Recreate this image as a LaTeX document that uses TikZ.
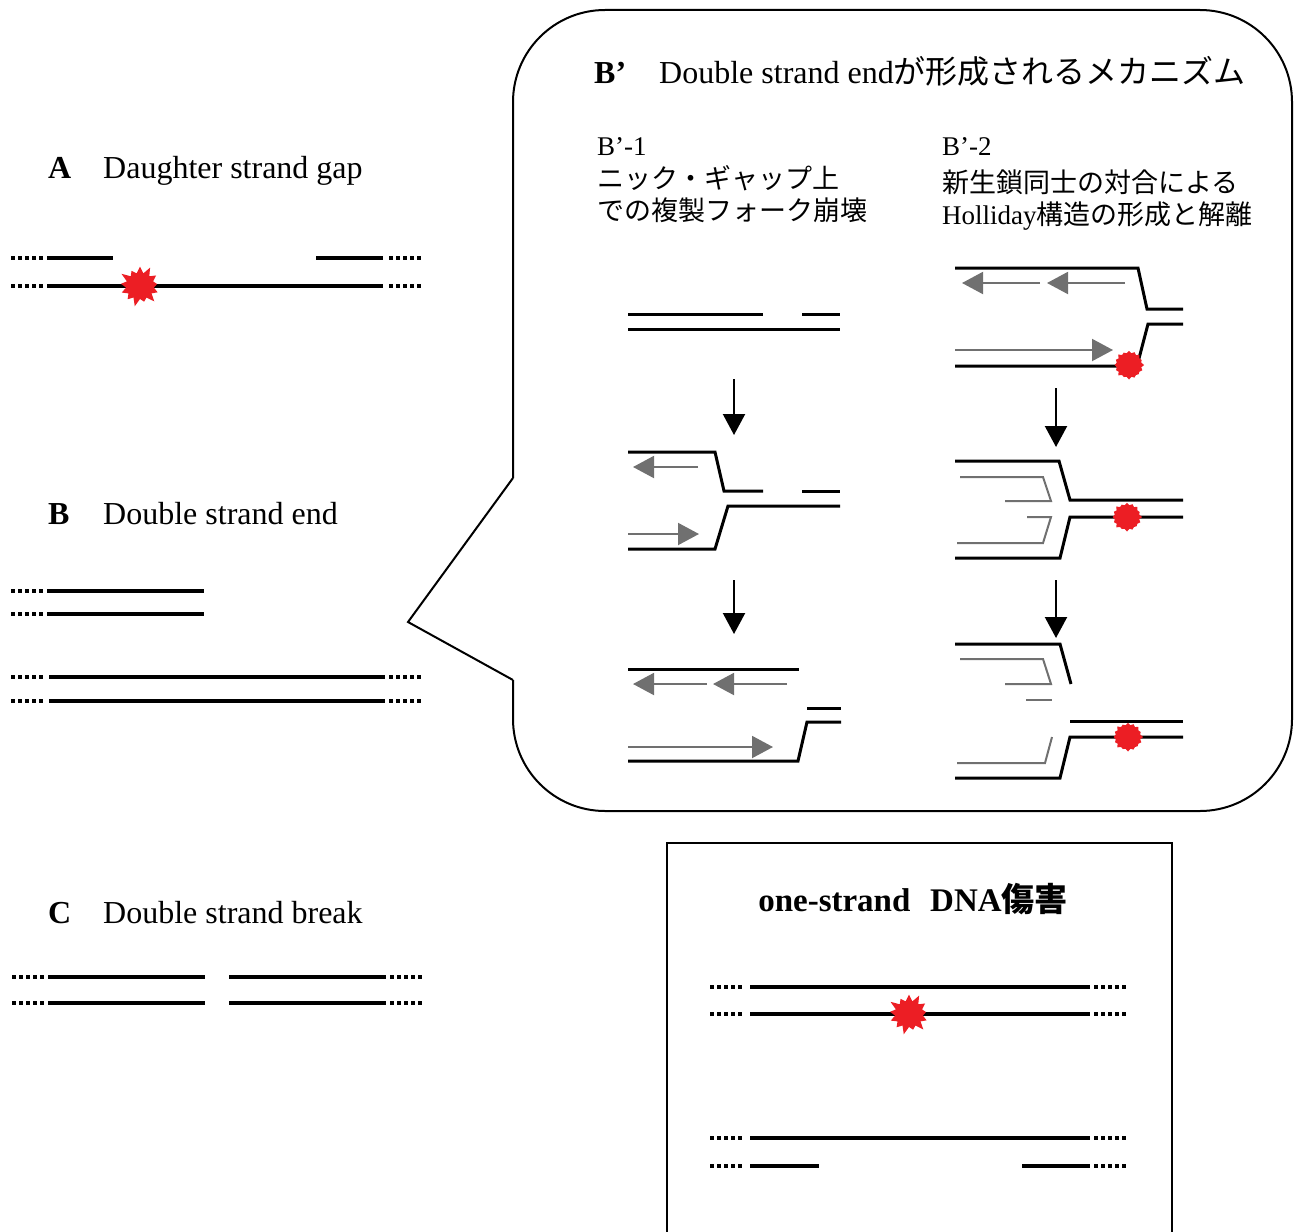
\documentclass[tikz,border=0pt]{standalone}
\usepackage{fontspec}
\setmainfont{Liberation Serif}
\newfontfamily\jp{Noto Sans CJK JP}
\usetikzlibrary{arrows.meta,shapes.symbols}

\definecolor{lesion}{RGB}{236,30,36}
\definecolor{newstrand}{RGB}{112,112,112}

\tikzset{
  strand/.style={line width=4pt},
  dots/.style={line width=4pt, dash pattern=on 4pt off 3pt},
  fork/.style={line width=3pt, line join=miter},
  nascentline/.style={newstrand, line width=2pt, line join=miter},
  nascent/.style={nascentline, -{Triangle[length=21pt,width=22pt]}},
  stagearrow/.style={line width=2.2pt, -{Triangle[length=21pt,width=22pt]}},
  spiky/.style={starburst, fill=lesion, draw=none, starburst points=13,
    starburst point height=9pt, minimum width=46pt, minimum height=44pt, inner sep=0pt},
  blob/.style={starburst, fill=lesion, draw=none, starburst points=16,
    starburst point height=3pt, minimum width=31pt, minimum height=30pt, inner sep=0pt},
  big/.style={font=\fontsize{32}{37}\selectfont, anchor=base west, inner sep=0pt},
  small/.style={font=\fontsize{27}{32}\selectfont, anchor=base west, inner sep=0pt},
}

\begin{document}
\begin{tikzpicture}[x=1pt, y=-1pt]
\useasboundingbox (0,0) rectangle (1300,1231);

% ---------- A: daughter strand gap ----------
\node[big] (labA) at (48,178) {\textbf{A}};
\node[big] (txtA) at (103,178) {Daughter strand gap};
\draw[dots] (11,258) -- (43,258);
\draw[strand] (47,258) -- (113,258);
\draw[strand] (316,258) -- (383,258);
\draw[dots] (389,258) -- (421,258);
\draw[dots] (11,286) -- (43,286);
\draw[strand] (47,286) -- (383,286);
\draw[dots] (389,286) -- (421,286);
\node[spiky] (lesA) at (140,286) {};

% ---------- B: double strand end ----------
\node[big] (labB) at (48,524) {\textbf{B}};
\node[big] (txtB) at (103,524) {Double strand end};
\draw[dots] (11,591) -- (43,591);
\draw[strand] (47,591) -- (204,591);
\draw[dots] (11,614) -- (43,614);
\draw[strand] (47,614) -- (204,614);
\draw[dots] (11,677) -- (43,677);
\draw[strand] (49,677) -- (385,677);
\draw[dots] (389,677) -- (421,677);
\draw[dots] (11,701) -- (43,701);
\draw[strand] (49,701) -- (385,701);
\draw[dots] (389,701) -- (421,701);

% ---------- C: double strand break ----------
\node[big] (labC) at (48,923) {\textbf{C}};
\node[big] (txtC) at (103,923) {Double strand break};
\draw[dots] (12,977) -- (44,977);
\draw[strand] (48,977) -- (205,977);
\draw[strand] (229,977) -- (386,977);
\draw[dots] (390,977) -- (422,977);
\draw[dots] (12,1003) -- (44,1003);
\draw[strand] (48,1003) -- (205,1003);
\draw[strand] (229,1003) -- (386,1003);
\draw[dots] (390,1003) -- (422,1003);

% ---------- callout B' ----------
\coordinate (tipB) at (408,622);
\draw[line width=2pt, rounded corners=92pt]
  (513,478) -- (513,10) -- (1292,10) -- (1292,811) -- (513,811) -- (513,680);
\draw[line width=2pt, line join=miter] (513,478) -- (tipB) -- (513,680);

\node[big] (labBp) at (594,83) {\textbf{B’}};
\node[big] (txtBp) at (659,83) {Double strand end{\jp が形成されるメカニズム}};

\node[small] (h1) at (597,155) {B’-1};
\node[small] (h1a) at (597,188) {\jp ニック・ギャップ上};
\node[small] (h1b) at (597,220) {\jp での複製フォーク崩壊};
\node[small] (h2) at (942,155) {B’-2};
\node[small] (h2a) at (942,192) {\jp 新生鎖同士の対合による};
\node[small] (h2b) at (942,224) {Holliday{\jp 構造の形成と解離}};

% B'-1, stage 1
\draw[fork] (628,314) -- (763,314);
\draw[fork] (802,314) -- (840,314);
\draw[fork] (628,329) -- (840,329);
\coordinate (a1s) at (734,379);
\coordinate (a1e) at (734,435);
\draw[stagearrow] (a1s) -- (a1e);
% B'-1, stage 2
\draw[fork] (628,452) -- (715,452) -- (724,491) -- (763,491);
\draw[fork] (802,491) -- (840,491);
\draw[fork] (840,506) -- (728,506) -- (715,549) -- (628,549);
\draw[nascent] (698,467) -- (633,467);
\draw[nascent] (628,534) -- (699,534);
\coordinate (a2s) at (734,580);
\coordinate (a2e) at (734,634);
\draw[stagearrow] (a2s) -- (a2e);
% B'-1, stage 3
\draw[fork] (628,669) -- (799,669);
\draw[nascent] (707,684) -- (633,684);
\draw[nascent] (787,684) -- (713,684);
\draw[fork] (807,708) -- (841,708);
\draw[fork] (841,722) -- (807,722) -- (798,761) -- (628,761);
\draw[nascent] (628,747) -- (773,747);

% B'-2, stage 1
\draw[fork] (955,268) -- (1138,268) -- (1147,309) -- (1183,309);
\draw[nascent] (1040,283) -- (962,283);
\draw[nascent] (1125,283) -- (1047,283);
\draw[fork] (1183,324) -- (1148,324) -- (1137,366) -- (955,366);
\draw[nascent] (955,350) -- (1113,350);
\node[blob] (les1) at (1129,365) {};
\coordinate (b1s) at (1056,388);
\coordinate (b1e) at (1056,447);
\draw[stagearrow] (b1s) -- (b1e);
% B'-2, stage 2
\draw[fork] (955,461) -- (1059,461) -- (1070,500) -- (1183,500);
\draw[nascentline] (960,477) -- (1043,477) -- (1051,501) -- (1005,501);
\draw[fork] (1183,517) -- (1070,517) -- (1060,558) -- (955,558);
\draw[nascentline] (1027,517) -- (1051,517) -- (1043,543) -- (957,543);
\node[blob] (les2) at (1127,517) {};
\coordinate (b2s) at (1056,580);
\coordinate (b2e) at (1056,638);
\draw[stagearrow] (b2s) -- (b2e);
% B'-2, stage 3
\draw[fork] (955,644) -- (1060,644) -- (1071,684);
\draw[nascentline] (960,659) -- (1043,659) -- (1051,684) -- (1005,684);
\draw[nascentline] (1026,700) -- (1052,700);
\draw[fork] (1070,721) -- (1183,721);
\draw[fork] (1183,737) -- (1070,737) -- (1060,778) -- (955,778);
\draw[nascentline] (1052,737) -- (1045,763) -- (957,763);
\node[blob] (les3) at (1128,737) {};

% ---------- one-strand DNA lesion box ----------
\draw[line width=2pt] (667,843) rectangle (1172,1250);
\node[font=\fontsize{33}{38}\selectfont\bfseries, anchor=base, inner sep=0pt] (boxtitle)
  at (913,911) {one-strand\hspace{0.6em}DNA{\jp\bfseries 傷害}};
\draw[dots] (710,987) -- (742,987);
\draw[strand] (750,987) -- (1090,987);
\draw[dots] (1094,987) -- (1126,987);
\draw[dots] (710,1014) -- (742,1014);
\draw[strand] (750,1014) -- (1090,1014);
\draw[dots] (1094,1014) -- (1126,1014);
\node[spiky] (lesBox) at (909,1014) {};
\draw[dots] (710,1138) -- (742,1138);
\draw[strand] (750,1138) -- (1090,1138);
\draw[dots] (1094,1138) -- (1126,1138);
\draw[dots] (710,1166) -- (742,1166);
\draw[strand] (750,1166) -- (819,1166);
\draw[strand] (1022,1166) -- (1090,1166);
\draw[dots] (1094,1166) -- (1126,1166);
\end{tikzpicture}
\end{document}
